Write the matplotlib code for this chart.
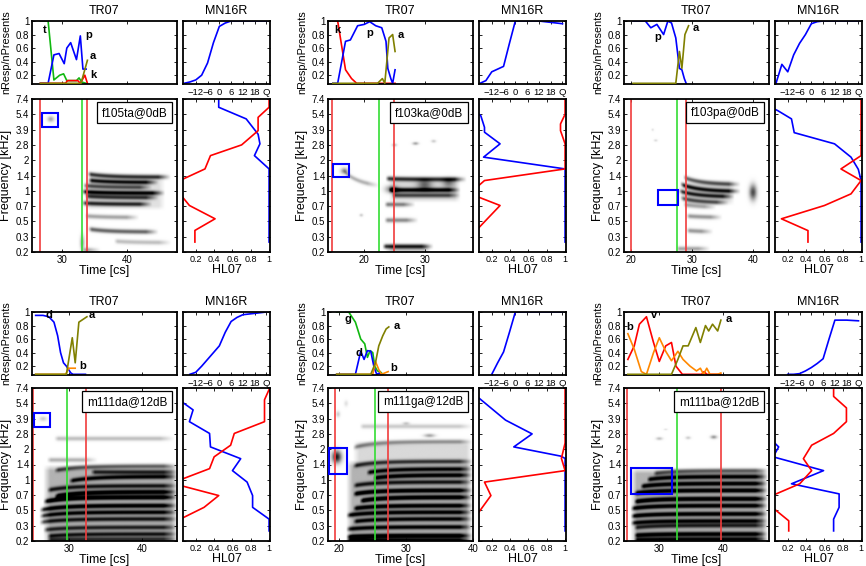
import numpy as np
import matplotlib
matplotlib.use("Agg")
import matplotlib.pyplot as plt
from matplotlib.patches import Rectangle

plt.rcParams["font.family"] = ["Liberation Sans", "DejaVu Sans"]

FIG_W, FIG_H = 866, 566

FREQ_LABELS = ["0.2", "0.3", "0.5", "0.7", "1", "1.4", "2", "2.8", "3.9", "5.4", "7.4"]
MN_LEVELS = [-18, -15, -12, -9, -6, -3, 0, 3, 6, 9, 12, 15, 18, 24]
MN_TICKS = [-12, -6, 0, 6, 12, 18, 24]
MN_TICK_LABELS = ["\u221212", "\u22126", "0", "6", "12", "18", "Q"]
nan = np.nan

COLORS = {"p": "#0000ff", "d": "#0000ff", "t": "#10b810", "g": "#10b810",
          "k": "#ff0000", "v": "#ff0000", "b": "#ff8800", "a": "#808000"}

# ---- f105ta@0dB
G1_NAME = "f105ta@0dB"
G1_XLIM = (25.3, 47.8)
G1_MARKS = (26.6, 33.1, 33.8)
G1_BOX = (26.9, 29.4, 8.2, 9.07)
G1_TR = {
    "t": ([26.6, 27.8, 28.7, 29.6, 30.2, 30.7, 32.2, 32.6, 33.0, 33.7],
          [1.0, 1.0, 0.13, 0.2, 0.22, 0.12, 0.12, 0.16, 0.1, 0.08]),
    "p": ([26.6, 27.8, 28.7, 29.5, 30.3, 30.7, 31.3, 32.2, 32.8, 33.2, 33.7],
          [0.08, 0.08, 0.5, 0.52, 0.37, 0.6, 0.68, 0.43, 0.78, 0.29, 0.29]),
    "k": ([26.6, 30.5, 30.8, 32.4, 32.8, 33.5, 33.9],
          [0.08, 0.08, 0.12, 0.12, 0.08, 0.2, 0.08]),
    "a": ([26.6, 32.9, 33.4, 33.9], [0.08, 0.08, 0.25, 0.42]),
}
G1_LETTERS = [("t", 27.0, 0.87), ("p", 33.6, 0.79), ("a", 34.2, 0.48), ("k", 34.3, 0.2)]
G1_MN = [0.08, 0.1, 0.13, 0.2, 0.38, 0.68, 0.92, 0.97, 1.0, 1.0, 1.0, 1.0, 1.0, 1.0]
G1_HL_BLUE = ([10, 9.46, 8.7, 7.7, 7.07, 6.3, 5.43, 0.65],
              [0.45, 0.45, 0.75, 0.88, 0.9, 0.84, 1.0, 1.0])
G1_HL_RED = ([10, 9.46, 8.8, 7.93, 7.0, 6.3, 5.43, 4.6, 3.7, 3.04, 2.17, 1.41, 0.65],
             [1.0, 1.0, 0.88, 0.88, 0.7, 0.36, 0.3, 0.0, 0.04, 0.13, 0.41, 0.19, 0.19])
G1_STRIPES = [(33.9, 46.9, 5.1, 4.9, 0.8), (34.0, 45.0, 4.7, 4.55, 0.85),
              (33.2, 44.0, 4.35, 4.22, 0.6), (33.0, 46.0, 3.95, 3.85, 0.9),
              (33.5, 45.0, 3.65, 3.55, 0.7), (33.0, 44.0, 3.2, 3.12, 0.75),
              (33.5, 42.0, 2.35, 2.25, 0.35), (34.0, 45.0, 1.5, 1.3, 0.6),
              (38.0, 47.0, 0.7, 0.6, 0.25), (33.0, 36.0, 0.12, 0.1, 0.35)]
G1_BLOBS = [(28.2, 8.7, 0.5, 0.18, 0.35), (33.1, 0.6, 0.35, 0.5, 0.35)]
G1_HAZE = [(33.5, 46.0, 3.0, 5.0, 0.12)]

# ---- f103ka@0dB
G2_NAME = "f103ka@0dB"
G2_XLIM = (14.0, 38.0)
G2_MARKS = (14.7, 22.4, 25.0)
G2_BOX = (14.9, 17.4, 4.9, 5.76)
G2_TR = {
    "k": ([14.8, 15.6, 16.9, 17.9, 18.75, 25.1], [1.0, 1.0, 0.28, 0.15, 0.08, 0.08]),
    "p": ([14.8, 15.6, 16.9, 17.7, 18.9, 20.0, 20.9, 21.9, 22.9, 23.6, 23.9, 24.4, 24.7, 25.1],
          [0.08, 0.08, 0.7, 0.72, 0.93, 0.95, 0.99, 0.93, 0.9, 0.7, 0.3, 0.15, 0.08, 0.28]),
    "a": ([14.8, 22.2, 23.0, 23.4, 24.1, 24.7, 25.1], [0.08, 0.08, 0.15, 0.08, 0.75, 0.8, 0.55]),
}
G2_LETTERS = [("k", 15.0, 0.87), ("p", 20.4, 0.83), ("a", 25.6, 0.8)]
G2_MN = [0.08, 0.12, 0.25, 0.29, 0.33, 0.67, 1.0, 1.0, 1.0, 1.0, 1.0, 0.99, 0.98, 0.96]
G2_HL_BLUE = ([9.3, 8.9, 8.15, 7.83, 7.07, 6.2, 5.43, 0.65],
              [0.0, 0.08, 0.12, 0.12, 0.29, 0.11, 1.0, 1.0])
G2_HL_RED = ([10, 9.0, 8.37, 7.93, 7.07, 5.43, 4.67, 4.2, 3.6, 3.04, 1.41],
             [1.0, 1.0, 0.95, 0.95, 1.0, 1.0, 0.12, 0.03, 0.05, 0.29, 0.03])
G2_STRIPES = [(23.5, 37.0, 4.8, 4.75, 0.75), (24.0, 36.0, 4.05, 4.05, 0.9),
              (24.5, 36.0, 3.7, 3.7, 0.6), (23.3, 28.5, 3.1, 3.1, 0.5),
              (23.3, 29.0, 2.07, 2.07, 0.45), (23.0, 31.5, 0.35, 0.35, 0.8),
              (16.5, 22.5, 5.3, 4.2, 0.3)]
G2_BLOBS = [(16.7, 5.3, 0.6, 0.2, 0.45), (25.0, 7.0, 0.4, 0.1, 0.25),
            (28.5, 7.1, 0.5, 0.1, 0.35), (31.5, 7.25, 0.4, 0.1, 0.2),
            (19.5, 2.4, 0.3, 0.1, 0.2), (24.5, 4.1, 1.0, 0.25, 0.5),
            (30.0, 4.4, 1.2, 0.3, 0.45), (34.0, 4.5, 1.0, 0.3, 0.35)]
G2_HAZE = [(24.0, 36.0, 3.5, 5.0, 0.15), (23.5, 31.0, 0.0, 0.6, 0.2)]

# ---- f103pa@0dB
G3_NAME = "f103pa@0dB"
G3_XLIM = (18.8, 42.6)
G3_MARKS = (20.0, 27.5, 28.9)
G3_BOX = (24.4, 27.6, 3.1, 4.07)
G3_TR = {
    "p": ([20.3, 22.3, 23.2, 24.2, 25.3, 26.0, 26.6, 27.3, 27.9, 28.3, 28.7, 29.0],
          [1.0, 1.0, 0.9, 0.95, 0.8, 1.0, 0.97, 0.75, 0.3, 0.28, 0.15, 0.08]),
    "a": ([20.3, 27.3, 27.9, 28.3, 28.8, 29.4], [0.08, 0.08, 0.55, 0.3, 0.8, 0.93]),
}
G3_LETTERS = [("p", 23.8, 0.77), ("a", 30.1, 0.9)]
G3_MN = [0.08, 0.36, 0.25, 0.5, 0.67, 0.8, 0.96, 0.99, 1.0, 1.0, 1.0, 1.0, 1.0, 1.0]
G3_HL_BLUE = ([9.5, 9.24, 8.7, 7.8, 7.07, 6.2, 5.4, 4.67, 0.65],
              [0.0, 0.09, 0.24, 0.27, 0.71, 0.89, 0.97, 1.0, 1.0])
G3_HL_RED = ([10, 6.3, 5.43, 4.67, 3.8, 3.04, 2.17, 1.4, 0.65],
             [1.0, 1.0, 0.78, 1.0, 0.89, 0.6, 0.13, 0.42, 0.42])
G3_STRIPES = [(28.5, 38.0, 4.9, 4.4, 0.6), (28.0, 38.0, 4.45, 3.95, 0.85),
              (27.8, 37.0, 4.0, 3.6, 0.8), (28.0, 36.0, 3.55, 3.2, 0.6),
              (28.5, 34.0, 3.1, 2.9, 0.35), (29.0, 35.0, 2.35, 2.25, 0.4),
              (29.0, 33.5, 1.4, 1.3, 0.4), (27.3, 33.0, 0.2, 0.2, 0.35)]
G3_BLOBS = [(40.0, 3.9, 0.6, 0.5, 0.7), (24.0, 7.3, 0.3, 0.08, 0.15), (23.5, 8.0, 0.2, 0.08, 0.12)]
G3_HAZE = [(28.5, 37.0, 3.3, 4.8, 0.12)]

# ---- m111da@12dB
G4_NAME = "m111da@12dB"
G4_XLIM = (25.0, 44.8)
G4_MARKS = (25.2, 29.8, 32.4)
G4_BOX = (25.3, 27.5, 7.47, 8.35)
G4_TR = {
    "d": ([25.5, 26.5, 27.3, 28.0, 28.5, 28.9, 29.3, 29.7, 30.3, 30.6, 32.3],
          [0.95, 0.95, 0.93, 0.85, 0.65, 0.4, 0.25, 0.2, 0.1, 0.08, 0.08]),
    "b": ([25.5, 29.6, 30.0, 30.9], [0.08, 0.08, 0.17, 0.17]),
    "a": ([25.5, 29.7, 30.5, 30.9, 31.4, 32.5], [0.08, 0.08, 0.62, 0.25, 0.85, 0.93]),
}
G4_LETTERS = [("d", 26.8, 0.95), ("a", 32.8, 0.95), ("b", 31.4, 0.2)]
G4_MN = [nan, 0.08, 0.11, 0.2, 0.3, 0.4, 0.5, 0.7, 0.86, 0.92, 0.96, 0.97, 0.98, 1.0]
G4_HL_BLUE = ([9.3, 8.57, 7.8, 7.03, 6.15, 5.38, 4.6, 3.85, 2.97, 2.2, 1.43, 0.66],
              [0.0, 0.17, 0.13, 0.35, 0.36, 0.69, 0.6, 0.76, 0.82, 0.82, 1.0, 1.0])
G4_HL_RED = ([9.9, 9.23, 7.8, 7.03, 6.26, 5.5, 4.73, 4.0, 3.6, 2.97, 2.2, 1.43],
             [1.0, 0.95, 0.95, 0.62, 0.58, 0.4, 0.35, 0.03, 0.05, 0.45, 0.29, 0.03])
G4_STRIPES = [(28.0, 44.5, 6.7, 6.7, 0.25), (27.0, 34.0, 5.3, 5.3, 0.3),
              (28.0, 45.0, 4.6, 4.9, 0.55), (33.0, 45.0, 4.5, 4.5, 0.6),
              (30.0, 45.0, 3.9, 4.2, 0.75), (27.0, 45.0, 3.3, 3.6, 0.65),
              (28.0, 45.0, 2.9, 3.2, 0.9), (26.5, 45.0, 2.55, 2.85, 0.95),
              (26.0, 45.0, 2.0, 2.3, 0.85), (26.0, 45.0, 1.6, 1.87, 0.75),
              (26.0, 45.0, 1.2, 1.43, 0.65), (26.5, 45.0, 0.7, 0.88, 0.6),
              (27.0, 45.0, 0.3, 0.44, 0.65), (27.0, 45.0, 0.05, 0.1, 0.55)]
G4_BLOBS = [(26.5, 8.0, 0.5, 0.15, 0.2), (35.0, 8.8, 0.6, 0.06, 0.12)]
G4_HAZE = [(26.5, 45.0, 0.0, 5.0, 0.3)]

# ---- m111ga@12dB
G5_NAME = "m111ga@12dB"
G5_XLIM = (18.3, 40.0)
G5_MARKS = (19.4, 25.4, 27.3)
G5_BOX = (18.4, 21.2, 4.4, 6.1)
G5_TR = {
    "g": ([19.6, 21.4, 22.4, 23.2, 23.8, 24.2, 24.6, 25.0, 25.3, 25.7, 26.1, 26.5],
          [1.0, 1.0, 0.85, 0.6, 0.53, 0.33, 0.43, 0.4, 0.2, 0.13, 0.12, 0.08]),
    "d": ([19.6, 22.4, 23.2, 23.7, 24.2, 24.7, 25.2, 25.6, 26.0, 26.3],
          [0.08, 0.08, 0.42, 0.3, 0.43, 0.42, 0.18, 0.08, 0.1, 0.08]),
    "b": ([19.6, 25.0, 25.4, 25.9, 26.3, 26.8, 27.3], [0.08, 0.08, 0.27, 0.15, 0.08, 0.1, 0.12]),
    "a": ([19.6, 24.7, 25.4, 25.9, 26.5, 27.0, 27.4], [0.08, 0.08, 0.25, 0.5, 0.65, 0.75, 0.78]),
}
G5_LETTERS = [("g", 20.8, 0.9), ("d", 22.4, 0.39), ("a", 28.1, 0.8), ("b", 27.6, 0.18)]
G5_MN = [nan, nan, 0.08, 0.25, 0.41, 0.7, 1.0, 1.0, 1.0, 1.0, 1.0, 1.0, 1.0, 1.0]
G5_HL_BLUE = ([9.34, 7.9, 7.0, 6.15, 5.55, 5.4, 0.66],
              [0.06, 0.35, 0.64, 0.44, 0.95, 1.0, 1.0])
G5_HL_RED = ([9.9, 6.4, 5.9, 5.4, 4.6, 3.85, 2.97, 1.65],
             [1.0, 1.0, 0.98, 0.96, 1.0, 0.12, 0.19, 0.03])
G5_STRIPES = [(22.0, 40.0, 6.1, 6.5, 0.4), (23.0, 40.0, 7.5, 7.5, 0.2),
              (22.0, 40.0, 4.9, 5.2, 0.65), (24.0, 40.0, 4.45, 4.7, 0.75),
              (25.0, 40.0, 4.1, 4.3, 0.85), (22.0, 40.0, 3.6, 3.85, 0.65),
              (22.0, 40.0, 3.05, 3.3, 0.9), (23.0, 40.0, 2.6, 2.85, 0.95),
              (22.0, 40.0, 2.1, 2.3, 0.85), (21.0, 40.0, 1.65, 1.87, 0.8),
              (22.0, 40.0, 1.25, 1.43, 0.75), (21.0, 40.0, 0.75, 0.9, 0.75),
              (21.0, 40.0, 0.25, 0.33, 0.95), (21.0, 40.0, 0.0, 0.0, 0.9)]
G5_BLOBS = [(19.6, 5.5, 0.7, 0.4, 0.9), (19.8, 8.3, 0.3, 0.2, 0.2), (21.0, 9.0, 0.3, 0.2, 0.12),
            (33.5, 6.9, 0.8, 0.12, 0.35), (30.0, 7.7, 0.5, 0.1, 0.2)]
G5_HAZE = [(21.0, 40.0, 0.0, 5.3, 0.3), (22.0, 40.0, 5.3, 6.6, 0.15)]

# ---- m111ba@12dB
G6_NAME = "m111ba@12dB"
G6_XLIM = (24.5, 47.1)
G6_MARKS = (24.9, 32.7, 39.6)
G6_BOX = (25.6, 32.05, 3.08, 4.77)
G6_TR = {
    "v": ([25.1, 26.1, 26.9, 28.0, 29.1, 30.0, 31.0, 31.9, 32.6, 33.6, 36.6, 37.0, 37.4, 39.6],
          [0.3, 0.5, 0.82, 0.93, 0.55, 0.27, 0.5, 0.55, 0.2, 0.08, 0.08, 0.12, 0.08, 0.08]),
    "b": ([25.1, 26.1, 27.2, 28.0, 29.1, 30.0, 31.0, 31.9, 32.9, 33.7, 34.8, 35.8, 36.4, 36.9, 37.4, 37.9, 39.1, 39.6],
          [0.68, 0.45, 0.12, 0.08, 0.4, 0.62, 0.42, 0.28, 0.42, 0.3, 0.2, 0.13, 0.17, 0.08, 0.17, 0.08, 0.08, 0.1]),
    "a": ([25.1, 31.9, 32.9, 33.7, 34.5, 35.7, 36.4, 37.2, 37.7, 38.3, 39.1, 39.6],
          [0.08, 0.08, 0.3, 0.5, 0.5, 0.77, 0.55, 0.8, 0.72, 0.82, 0.72, 0.88]),
}
G6_LETTERS = [("b", 24.8, 0.78), ("v", 28.7, 0.95), ("a", 40.4, 0.9)]
G6_MN = [nan, nan, 0.08, 0.08, 0.09, 0.13, 0.18, 0.24, 0.31, 0.6, 0.88, 0.88, 0.88, 0.87]
G6_HL_BLUE = ([6.5, 6.15, 5.5, 4.6, 3.74, 3.08, 2.2, 1.43, 0.66],
              [0.04, 0.1, 0.04, 0.59, 0.24, 0.76, 0.76, 0.7, 0.7])
G6_HL_RED = ([9.9, 9.45, 8.7, 7.8, 7.03, 6.26, 5.38, 4.6, 3.74, 2.97, 2.2, 1.32, 0.66],
             [0.7, 0.7, 0.84, 0.84, 0.7, 0.46, 0.37, 0.46, 0.33, 0.03, 0.03, 0.21, 0.21])
G6_STRIPES = [(29.0, 47.0, 4.4, 4.6, 0.5), (28.0, 47.0, 4.0, 4.2, 0.8),
              (27.0, 47.0, 3.55, 3.75, 0.85), (26.0, 47.0, 3.1, 3.3, 0.9),
              (26.0, 47.0, 2.55, 2.75, 0.95), (25.5, 47.0, 2.1, 2.3, 0.85),
              (25.5, 47.0, 1.6, 1.76, 0.85), (25.5, 47.0, 1.15, 1.3, 0.75),
              (26.0, 47.0, 0.85, 1.0, 0.6), (26.0, 47.0, 0.35, 0.44, 0.85),
              (26.0, 47.0, 0.05, 0.1, 0.75)]
G6_BLOBS = [(30.0, 6.7, 0.5, 0.1, 0.25), (34.5, 6.75, 0.4, 0.1, 0.2),
            (38.5, 6.8, 0.5, 0.12, 0.4), (31.0, 7.3, 0.3, 0.06, 0.12)]
G6_HAZE = [(25.5, 47.0, 0.0, 4.8, 0.3)]

GROUPS = [
    (G1_NAME, G1_XLIM, G1_MARKS, G1_BOX, G1_TR, G1_LETTERS, G1_MN, G1_HL_BLUE, G1_HL_RED, G1_STRIPES, G1_BLOBS, G1_HAZE),
    (G2_NAME, G2_XLIM, G2_MARKS, G2_BOX, G2_TR, G2_LETTERS, G2_MN, G2_HL_BLUE, G2_HL_RED, G2_STRIPES, G2_BLOBS, G2_HAZE),
    (G3_NAME, G3_XLIM, G3_MARKS, G3_BOX, G3_TR, G3_LETTERS, G3_MN, G3_HL_BLUE, G3_HL_RED, G3_STRIPES, G3_BLOBS, G3_HAZE),
    (G4_NAME, G4_XLIM, G4_MARKS, G4_BOX, G4_TR, G4_LETTERS, G4_MN, G4_HL_BLUE, G4_HL_RED, G4_STRIPES, G4_BLOBS, G4_HAZE),
    (G5_NAME, G5_XLIM, G5_MARKS, G5_BOX, G5_TR, G5_LETTERS, G5_MN, G5_HL_BLUE, G5_HL_RED, G5_STRIPES, G5_BLOBS, G5_HAZE),
    (G6_NAME, G6_XLIM, G6_MARKS, G6_BOX, G6_TR, G6_LETTERS, G6_MN, G6_HL_BLUE, G6_HL_RED, G6_STRIPES, G6_BLOBS, G6_HAZE),
]

COL_LEFT = [32, 328, 624]
ROW_TR_TOP = [21, 312]
ROW_SP_TOP = [99, 388]
MAIN_W, SIDE_GAP, SIDE_W = 145, 6, 87
TR_H, SP_H = 63, 153
TR_YLIM = (0.07, 1.0)
HL_XLIM = (0.06, 1.01)


def rect(x, top, w, h):
    return [x / FIG_W, (FIG_H - top - h) / FIG_H, w / FIG_W, h / FIG_H]


def style(ax):
    for s in ax.spines.values():
        s.set_linewidth(1.3)
    ax.tick_params(direction="in", length=2.5, width=0.6, labelsize=7, pad=2,
                   top=True, right=True)


def spectrogram(ax, xlim, stripes, blobs, haze):
    t = np.linspace(xlim[0], xlim[1], 500)
    y = np.linspace(0, 10, 320)
    T, Y = np.meshgrid(t, y)
    img = np.zeros_like(T)
    for t0, t1, y0, y1, dark in stripes:
        yc = y1 + (y0 - y1) * np.exp(-np.clip(T - t0, 0, None) / 3.0)
        on = np.clip((T - t0) / 0.6, 0, 1) * np.clip((t1 - T) / 2.0, 0, 1)
        img += dark * on * np.exp(-((Y - yc) / 0.15) ** 2)
    for tc, yc, dt, dy, dark in blobs:
        img += dark * np.exp(-((T - tc) / dt) ** 2 - ((Y - yc) / dy) ** 2)
    for t0, t1, ylo, yhi, dark in haze:
        on = np.clip((T - t0) / 1.0, 0, 1) * np.clip((t1 - T) / 1.0, 0, 1)
        band = np.clip((Y - ylo) / 0.3 + 1, 0, 1) * np.clip((yhi - Y) / 0.4, 0, 1)
        img += dark * on * band
    ax.imshow(np.clip(img, 0, 1), extent=(xlim[0], xlim[1], 0, 10), origin="lower",
              aspect="auto", cmap="gray_r", vmin=0, vmax=1, interpolation="bilinear")


fig = plt.figure(figsize=(FIG_W / 100, FIG_H / 100), dpi=100)

for i, (name, xlim, marks, box, tr, letters, mn, hl_blue, hl_red, stripes, blobs, haze) in enumerate(GROUPS):
    left = COL_LEFT[i % 3]
    row = i // 3
    xticks = [v for v in (10, 20, 30, 40) if xlim[0] <= v <= xlim[1]]

    # TR07
    ax_tr = fig.add_axes(rect(left, ROW_TR_TOP[row], MAIN_W, TR_H))
    for key, (tt, vv) in tr.items():
        ax_tr.plot(tt, vv, color=COLORS[key], lw=1.2, zorder=3 if key == "a" else 2)
    for letter, lx, ly in letters:
        ax_tr.text(lx, ly, letter, fontsize=8, fontweight="bold", ha="left", va="center")
    ax_tr.set_xlim(xlim)
    ax_tr.set_ylim(TR_YLIM)
    ax_tr.set_xticks(xticks)
    ax_tr.set_xticklabels([])
    ax_tr.set_yticks([0.2, 0.4, 0.6, 0.8, 1.0])
    ax_tr.set_yticklabels(["0.2", "0.4", "0.6", "0.8", "1"])
    ax_tr.set_title("TR07", fontsize=9, pad=5)
    ax_tr.set_ylabel("nResp/nPresents", fontsize=7.8, labelpad=3)
    style(ax_tr)

    # MN16R
    ax_mn = fig.add_axes(rect(left + MAIN_W + SIDE_GAP, ROW_TR_TOP[row], SIDE_W, TR_H))
    ax_mn.plot(MN_LEVELS, mn, color="#0000ff", lw=1.2)
    ax_mn.set_xlim(-18.5, 25.8)
    ax_mn.set_ylim(TR_YLIM)
    ax_mn.set_xticks(MN_TICKS)
    ax_mn.set_xticklabels(MN_TICK_LABELS)
    ax_mn.set_yticks([0.2, 0.4, 0.6, 0.8, 1.0])
    ax_mn.set_yticklabels([])
    ax_mn.set_title("MN16R", fontsize=9, pad=5)
    style(ax_mn)
    ax_mn.tick_params(labelsize=6.8, pad=3)

    # spectrogram
    ax_sp = fig.add_axes(rect(left, ROW_SP_TOP[row], MAIN_W, SP_H))
    spectrogram(ax_sp, xlim, stripes, blobs, haze)
    ax_sp.axvline(marks[0], color="#f03c3c", lw=1.2)
    ax_sp.axvline(marks[1], color="#33dd33", lw=1.2)
    ax_sp.axvline(marks[2], color="#f03c3c", lw=1.2)
    ax_sp.add_patch(Rectangle((box[0], box[2]), box[1] - box[0], box[3] - box[2],
                              fill=False, edgecolor="#0000ff", lw=1.5, zorder=4))
    ax_sp.text(0.933, 0.95, name, transform=ax_sp.transAxes, ha="right", va="top",
               fontsize=8.5, zorder=5,
               bbox=dict(boxstyle="square,pad=0.4", fc="white", ec="black", lw=0.9))
    ax_sp.set_xlim(xlim)
    ax_sp.set_ylim(0, 10)
    ax_sp.set_xticks(xticks)
    ax_sp.set_yticks(range(11))
    ax_sp.set_yticklabels(FREQ_LABELS)
    ax_sp.set_xlabel("Time [cs]", fontsize=9, labelpad=0)
    ax_sp.set_ylabel("Frequency [kHz]", fontsize=9, labelpad=3)
    style(ax_sp)

    # HL07
    ax_hl = fig.add_axes(rect(left + MAIN_W + SIDE_GAP, ROW_SP_TOP[row], SIDE_W, SP_H))
    ax_hl.plot(hl_blue[1], hl_blue[0], color="#0000ff", lw=1.2)
    ax_hl.plot(hl_red[1], hl_red[0], color="#ff0000", lw=1.2)
    ax_hl.set_xlim(HL_XLIM)
    ax_hl.set_ylim(0, 10)
    ax_hl.set_xticks([0.2, 0.4, 0.6, 0.8, 1.0])
    ax_hl.set_xticklabels(["0.2", "0.4", "0.6", "0.8", "1"])
    ax_hl.set_yticks(range(11))
    ax_hl.set_yticklabels([])
    ax_hl.set_xlabel("HL07", fontsize=9, labelpad=0)
    style(ax_hl)
    ax_hl.tick_params(labelsize=6.5)

fig.savefig("out.png", dpi=100)
